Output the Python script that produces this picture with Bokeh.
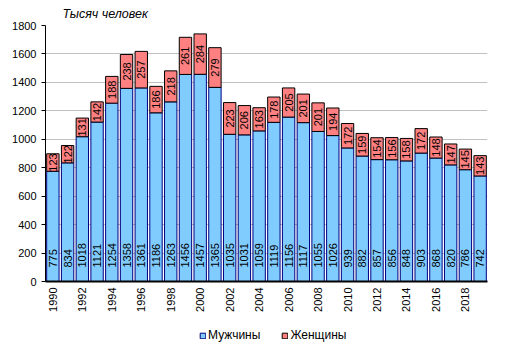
import math
from bokeh.plotting import figure
from bokeh.layouts import column
from bokeh.models import ColumnDataSource, FixedTicker, Legend, LegendItem
from bokeh.core.properties import value
from bokeh.embed import file_html
from bokeh.resources import INLINE

years = list(range(1990, 2020))
men = [775, 834, 1018, 1121, 1254, 1358, 1361, 1186, 1263, 1456, 1457, 1365, 1035, 1031, 1059,
       1119, 1156, 1117, 1055, 1026, 939, 882, 857, 856, 848, 903, 868, 820, 786, 742]
women = [123, 122, 131, 142, 188, 238, 257, 186, 218, 261, 284, 279, 223, 206, 163,
         178, 205, 201, 201, 194, 172, 159, 154, 156, 158, 172, 148, 147, 145, 143]
y_ticks = [0, 200, 400, 600, 800, 1000, 1200, 1400, 1600, 1800]
x_ticks = list(range(1990, 2019, 2))
series_names = ["Мужчины", "Женщины"]

FONT = "Liberation Sans"
BLUE, BLUE_LINE = "#80CCFF", "#000080"
RED, RED_LINE = "#FF8080", "#000000"

src = ColumnDataSource(dict(
    year=years,
    men=men,
    women=women,
    total=[m + w for m, w in zip(men, women)],
    wmid=[m + w / 2 for m, w in zip(men, women)],
    men_lbl=[str(v) for v in men],
    women_lbl=[str(v) for v in women],
    zero=[0] * len(years),
))

p = figure(width=496, height=316, output_backend="svg", toolbar_location=None,
           x_range=(1989.5, 2019.5), y_range=(0, 1800),
           min_border_left=45, min_border_right=9, min_border_top=0, min_border_bottom=35)
p.outline_line_color = None
p.background_fill_color = "white"

p.title.text = "Тысяч человек"
p.title.text_font = FONT
p.title.text_font_style = "italic"
p.title.text_font_size = "12.5px"
p.title.text_color = "#000000"
p.title.offset = 17
p.title.standoff = 9

p.vbar(x="year", width=0.84, bottom=0, top="men", source=src,
       fill_color=BLUE, line_color=BLUE_LINE, line_width=1)
p.vbar(x="year", width=0.84, bottom="men", top="total", source=src,
       fill_color=RED, line_color=RED_LINE, line_width=1)

p.text(x="year", y="zero", text="men_lbl", source=src, angle=math.pi / 2,
       text_align="left", text_baseline="middle", y_offset=-14,
       text_font=value(FONT), text_font_size="11px", text_color="#000000")
p.text(x="year", y="wmid", text="women_lbl", source=src, angle=math.pi / 2,
       text_align="center", text_baseline="middle",
       text_font=value(FONT), text_font_size="11px", text_color="#000000")

p.xgrid.grid_line_color = None
p.ygrid.grid_line_color = "#C0C0C0"
p.ygrid.ticker = FixedTicker(ticks=y_ticks)

p.yaxis.ticker = FixedTicker(ticks=y_ticks)
p.yaxis.axis_line_color = "#000000"
p.yaxis.major_tick_out = 4
p.yaxis.major_tick_in = 0
p.yaxis.minor_tick_line_color = None
p.yaxis.major_label_text_font = FONT
p.yaxis.major_label_text_font_size = "11px"
p.yaxis.major_label_text_color = "#000000"

p.xaxis.ticker = FixedTicker(ticks=x_ticks)
p.xaxis.axis_line_color = "#000000"
p.xaxis.axis_line_width = 2
p.xaxis.major_tick_out = 0
p.xaxis.major_tick_in = 0
p.xaxis.minor_tick_line_color = None
p.xaxis.major_label_orientation = math.pi / 2
p.xaxis.major_label_standoff = 6
p.xaxis.major_label_text_font = FONT
p.xaxis.major_label_text_font_size = "11px"
p.xaxis.major_label_text_color = "#000000"

# legend strip (its frame is aligned with the main frame by the column layout)
lf = figure(width=496, height=28, output_backend="svg", toolbar_location=None,
            x_range=(0, 1), y_range=(0, 1),
            min_border_left=0, min_border_right=0, min_border_top=0, min_border_bottom=0)
lf.axis.visible = False
lf.grid.grid_line_color = None
lf.outline_line_color = None
nan = float("nan")
d_men = lf.vbar(x=[nan], top=[nan], width=0.1, fill_color=BLUE, line_color=BLUE_LINE)
d_women = lf.vbar(x=[nan], top=[nan], width=0.1, fill_color=RED, line_color=RED_LINE)
legend = Legend(items=[LegendItem(label=series_names[0], renderers=[d_men]),
                       LegendItem(label=series_names[1], renderers=[d_women])],
                orientation="horizontal", location=(154, 2),
                label_text_font=FONT, label_text_font_size="12px",
                label_text_color="#000000", label_height=12,
                glyph_width=7, glyph_height=7, spacing=21, label_standoff=2,
                border_line_color=None, background_fill_alpha=0,
                padding=0, margin=0)
lf.add_layout(legend, "center")

open("out.html", "w").write(file_html(column(p, lf), INLINE))
